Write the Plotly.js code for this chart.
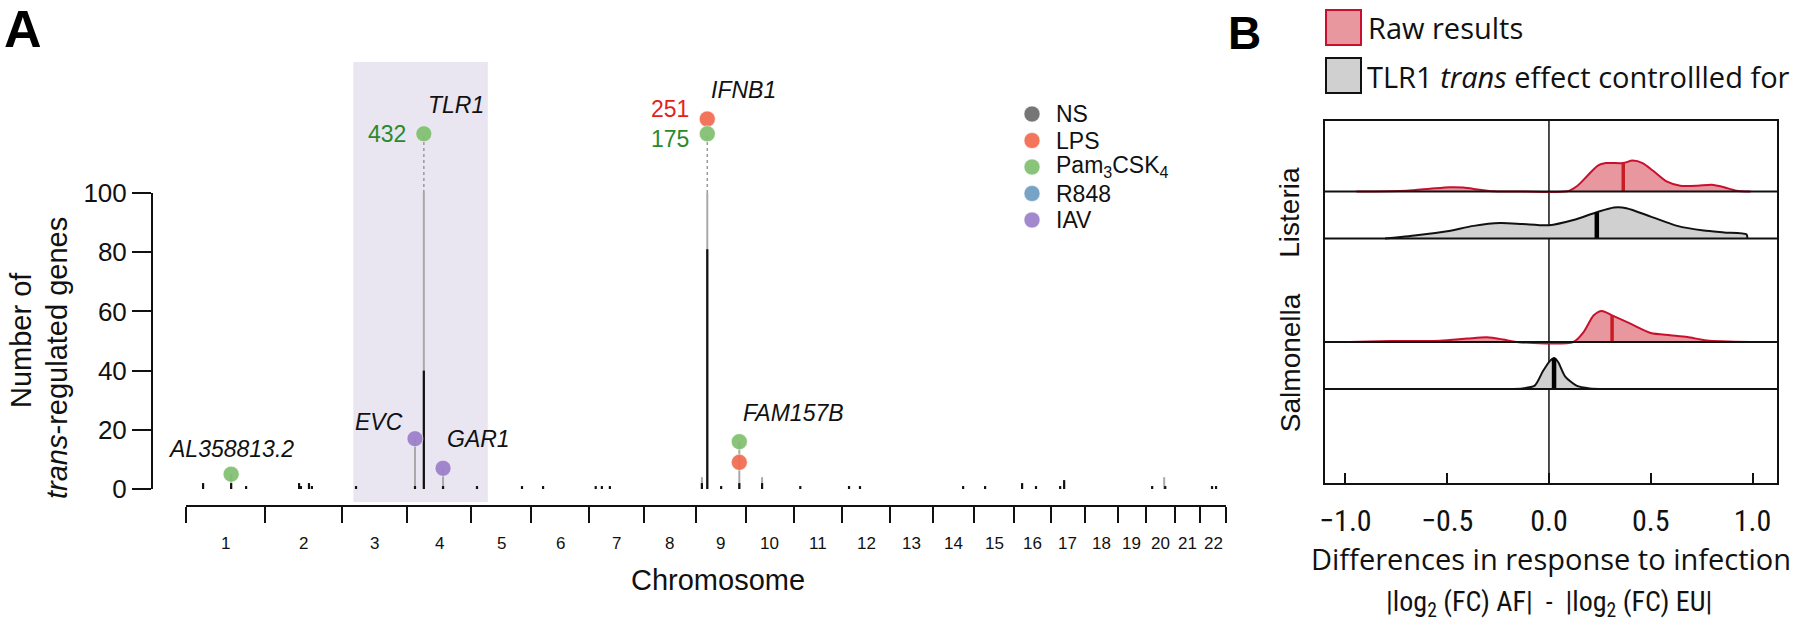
<!DOCTYPE html>
<html>
<head>
<meta charset="utf-8">
<script src="https://cdn.plot.ly/plotly-3.0.1.min.js"></script>
<style>html,body{margin:0;padding:0;background:#fff}#chart{width:1800px;height:624px}</style>
</head>
<body>
<div id="chart"></div>
<script>
// ================= DATA =================
// Panel A : chromosomes (hg19 lengths, Mb)
const chromosomes = ['1','2','3','4','5','6','7','8','9','10','11','12','13','14','15','16','17','18','19','20','21','22'];
const chrLengthMb = [249.3,243.2,198.0,191.2,180.9,171.1,159.1,146.4,141.2,135.5,135.0,133.9,115.2,107.3,102.5,90.4,81.2,78.1,59.1,63.0,48.1,51.3];

// trans-acting loci: number of trans-regulated genes (black = one condition, grey = total)
const locusChr   = [1,1,1,2,2,2,2,3,4,4,4,5,5,6,7,7,7,9,9,9,9,10,11,12,12,14,15,16,16,17,17,20,20,20,22,22];
const locusPosMb = [41,146,202,105,112,142,153,29,5.7,38.8,110.7,0.5,169,21,1,24,54,1,21.1,73,141,39,0.5,2,43,88,17,7,59,13,28,1,46,50,22,37];
const locusBlack = [2,2,1,2,1,2,1,1,1,40,1,1,1,1,1,1,1,2,81,1,2,2,1,1,1,1,1,2,1,1,3,1,0,1,1,1];
const locusGrey  = [0,5,0,0,0,0,0,0,17,432,7,0,0,0,0,0,0,4,251,0,16,4,0,0,0,0,0,0,0,0,0,0,4,0,0,0];

// highlighted hotspot genes
const dotGene      = ['AL358813.2','EVC','TLR1','GAR1','IFNB1','IFNB1','FAM157B','FAM157B'];
const dotChr       = [1,4,4,4,9,9,9,9];
const dotPosMb     = [146,5.7,38.8,110.7,21.1,21.1,141,141];
const dotCount     = [5,17,432,7,251,175,16,9];
const dotCondition = ['Pam3CSK4','IAV','Pam3CSK4','IAV','LPS','Pam3CSK4','Pam3CSK4','LPS'];

const conditions      = ['NS','LPS','Pam3CSK4','R848','IAV'];
const conditionLabels = ['NS','LPS','Pam<sub>3</sub>CSK<sub>4</sub>','R848','IAV'];

const highlightFrom = [3, 19];   // chr, Mb
const highlightTo   = [5, 41];

const yTicksA = [0,20,40,60,80,100];

// Panel B : density ridges (relative density)
const infections = ['Listeria','Salmonella'];
const listeriaRawX   = [-0.945,-0.70,-0.585,-0.487,-0.42,-0.34,-0.27,-0.13,0.09,0.14,0.19,0.24,0.28,0.365,0.41,0.46,0.51,0.58,0.645,0.73,0.80,0.86,0.92,0.99];
const listeriaRawD   = [0,0.03,0.09,0.14,0.13,0.06,0.01,0,0.01,0.19,0.52,0.84,0.92,0.92,1.0,0.92,0.68,0.32,0.19,0.19,0.22,0.14,0.03,0];
const listeriaCtrlX  = [-0.805,-0.65,-0.50,-0.37,-0.24,-0.13,0.0,0.12,0.235,0.32,0.38,0.50,0.63,0.76,0.86,0.97,0.975];
const listeriaCtrlD  = [0,0.11,0.24,0.41,0.50,0.47,0.43,0.60,0.85,1.0,0.98,0.71,0.41,0.26,0.20,0.14,0];
const salmonellaRawX = [-0.98,-0.78,-0.535,-0.40,-0.305,-0.225,-0.16,0.12,0.17,0.22,0.26,0.31,0.40,0.50,0.595,0.68,0.775,0.99];
const salmonellaRawD = [0,0.03,0.04,0.11,0.15,0.08,0,0,0.32,0.86,1.0,0.86,0.59,0.29,0.22,0.16,0.05,0];
const salmonellaCtrlX= [-0.265,-0.13,-0.07,-0.03,0.003,0.025,0.045,0.08,0.135,0.2,0.275];
const salmonellaCtrlD= [0,0.02,0.11,0.57,0.89,1.0,0.87,0.40,0.11,0.02,0];
const medianRaw  = [0.365, 0.31];   // Listeria, Salmonella
const medianCtrl = [0.235, 0.025];
const xTicksB = [-1,-0.5,0,0.5,1];
const xTickTextB = ['\u22121.0','\u22120.5','0.0','0.5','1.0'];

// ================= STYLE / LAYOUT HELPERS =================
const W = 1800, H = 624;
const px = v => v / W;
const py = v => 1 - v / H;
const ARIAL = 'Liberation Sans, Arial, Helvetica, sans-serif';
const MYRIAD = 'Open Sans, Noto Sans, sans-serif';
const NARROW = 'Liberation Sans Narrow, Arial Narrow, Roboto Condensed, DejaVu Sans Condensed, Liberation Sans, sans-serif';

const condColor  = {NS:'#6b6b6b', LPS:'#f26b4f', Pam3CSK4:'#80bf6f', R848:'#6c9cbf', IAV:'#9b7fca'};
const countColor = {NS:'#444', LPS:'#e3231b', Pam3CSK4:'#2a8a2a', R848:'#3a6e99', IAV:'#6a4fa0'};

const GAP = 46;  // spacing between chromosomes (Mb)
const cumStart = []; let acc = 0;
chrLengthMb.forEach(L => { cumStart.push(acc); acc += L + GAP; });
const TOTAL = acc;
const gx = (c, p) => cumStart[c - 1] + GAP / 2 + p;
const boundaries = cumStart.concat([TOTAL]);
const centers = chrLengthMb.map((L, i) => cumStart[i] + (L + GAP) / 2);

const BREAK = 100, TOPROW = 120;
// rank of each dot among the >BREAK dots of the same gene (broken axis display)
const aboveRank = dotCount.map((v, i) => {
  if (v <= BREAK) return -1;
  const above = dotCount.map((w, j) => ({w, j})).filter(o => dotGene[o.j] === dotGene[i] && o.w > BREAK).sort((a, b) => a.w - b.w);
  return above.findIndex(o => o.j === i);
});
const aboveN = dotGene.map(g => dotGene.filter((d, j) => d === g && dotCount[j] > BREAK).length);
const dispY = dotCount.map((v, i) => v <= BREAK ? v : TOPROW + 5 * aboveRank[i]);

const traces = [];
// grey stems
const gsx = [], gsy = [];
locusChr.forEach((c, i) => { if (locusGrey[i] > 0) { const x = gx(c, locusPosMb[i]); gsx.push(x, x, null); gsy.push(0, Math.min(locusGrey[i], BREAK), null); } });
traces.push({x: gsx, y: gsy, mode: 'lines', line: {color: '#a9a9a9', width: 2}, showlegend: false, hoverinfo: 'skip'});
// dotted continuation above break
const dsx = [], dsy = [];
[...new Set(dotGene)].forEach(g => {
  const idx = dotGene.map((d, i) => i).filter(i => dotGene[i] === g && dotCount[i] > BREAK);
  if (idx.length) { const x = gx(dotChr[idx[0]], dotPosMb[idx[0]]); dsx.push(x, x, null); dsy.push(BREAK, Math.min(...idx.map(i => dispY[i])), null); }
});
traces.push({x: dsx, y: dsy, mode: 'lines', line: {color: '#9a9a9a', width: 1.5, dash: 'dot'}, showlegend: false, hoverinfo: 'skip'});
// black stems
const bsx = [], bsy = [];
locusChr.forEach((c, i) => { if (locusBlack[i] > 0) { const x = gx(c, locusPosMb[i]); bsx.push(x, x, null); bsy.push(0, locusBlack[i], null); } });
traces.push({x: bsx, y: bsy, mode: 'lines', line: {color: '#111', width: 2.2}, showlegend: false, hoverinfo: 'skip'});
// dots per condition
conditions.forEach((cond, k) => {
  const idx = dotCondition.map((d, i) => i).filter(i => dotCondition[i] === cond);
  if (!idx.length) return;
  traces.push({
    x: idx.map(i => gx(dotChr[i], dotPosMb[i])), y: idx.map(i => dispY[i]),
    mode: 'markers', name: conditionLabels[k], cliponaxis: false, showlegend: false,
    marker: {size: 16, color: condColor[cond], opacity: 0.92, line: {color: 'rgba(255,255,255,0.55)', width: 1}},
    hoverinfo: 'skip'
  });
});
// invisible trace to carry visible y axis
traces.push({x: [0], y: [0], xaxis: 'x', yaxis: 'y2', mode: 'markers', marker: {opacity: 0}, showlegend: false, hoverinfo: 'skip'});

// ---------- Panel B ridges ----------
const ROW_SCALE = 0.66;
const baseOf = (g, raw) => 2 + (infections.length - 1 - g) * 3.2 + (raw ? 1 : 0);
const ridgeData = [
  [listeriaRawX, listeriaRawD, listeriaCtrlX, listeriaCtrlD],
  [salmonellaRawX, salmonellaRawD, salmonellaCtrlX, salmonellaCtrlD]
];
const interp = (xs, ds, v) => { for (let i = 1; i < xs.length; i++) { if (v <= xs[i]) { const t = (v - xs[i-1]) / (xs[i] - xs[i-1]); return ds[i-1] + t * (ds[i] - ds[i-1]); } } return 0; };
const shapes = [];
const annotations = [];

infections.forEach((inf, g) => {
  [[true, ridgeData[g][0], ridgeData[g][1], medianRaw[g]], [false, ridgeData[g][2], ridgeData[g][3], medianCtrl[g]]].forEach(([raw, xs, ds, med]) => {
    const base = baseOf(g, raw);
    traces.push({x: [xs[0], xs[xs.length-1]], y: [base, base], xaxis: 'x3', yaxis: 'y3', mode: 'lines', line: {width: 0}, showlegend: false, hoverinfo: 'skip'});
    traces.push({x: xs, y: ds.map(d => base + d * ROW_SCALE), xaxis: 'x3', yaxis: 'y3', mode: 'lines', fill: 'tonexty',
      fillcolor: raw ? 'rgba(215,75,90,0.58)' : '#d0d0d0',
      line: {color: raw ? '#c8102e' : '#111', width: 2, shape: 'spline', smoothing: 0.7}, showlegend: false, hoverinfo: 'skip'});
    traces.push({x: [med, med], y: [base, base + interp(xs, ds, med) * ROW_SCALE], xaxis: 'x3', yaxis: 'y3', mode: 'lines',
      line: {color: raw ? '#c81d25' : '#000', width: raw ? 3.5 : 4.5}, showlegend: false, hoverinfo: 'skip'});
    shapes.push({type: 'line', xref: 'x3 domain', x0: 0, x1: 1, yref: 'y3', y0: base, y1: base, line: {color: '#111', width: 2}, layer: 'above'});
  });
  annotations.push({xref: 'paper', yref: 'y3', x: px(1290), y: (baseOf(g, false) + baseOf(g, true)) / 2 + 0.05, text: inf, textangle: -90, showarrow: false,
    xanchor: 'center', yanchor: 'middle', font: {family: ARIAL, size: 28, color: '#111'}});
});
shapes.push({type: 'line', xref: 'x3', x0: 0, x1: 0, yref: 'y3 domain', y0: 0, y1: 1, line: {color: '#111', width: 1.5}, layer: 'below'});

// highlight band
shapes.push({type: 'rect', xref: 'x', x0: gx(highlightFrom[0], highlightFrom[1]), x1: gx(highlightTo[0], highlightTo[1]), yref: 'paper', y0: py(502), y1: py(62),
  fillcolor: '#e9e5f1', line: {width: 0}, layer: 'below'});

// Panel A legend (manual, compact rows)
const LEG_X = 1032, LEG_Y0 = 114, LEG_DY = 26.5, LEG_R = 8;
conditions.forEach((cond, k) => {
  const yc = LEG_Y0 + k * LEG_DY;
  shapes.push({type: 'circle', xref: 'paper', yref: 'paper', x0: px(LEG_X - LEG_R), x1: px(LEG_X + LEG_R), y0: py(yc + LEG_R), y1: py(yc - LEG_R),
    fillcolor: condColor[cond], opacity: 0.92, line: {color: 'rgba(255,255,255,0.55)', width: 1}});
  annotations.push({xref: 'paper', yref: 'paper', x: px(LEG_X + 22), y: py(yc), text: conditionLabels[k], showarrow: false, xanchor: 'left', yanchor: 'middle',
    font: {family: ARIAL, size: 23, color: '#111'}});
});

// Panel B legend
shapes.push({type: 'rect', xref: 'paper', yref: 'paper', x0: px(1326), x1: px(1361), y0: py(45), y1: py(10), fillcolor: 'rgba(215,75,90,0.58)', line: {color: '#c8102e', width: 2}});
shapes.push({type: 'rect', xref: 'paper', yref: 'paper', x0: px(1326), x1: px(1361), y0: py(93), y1: py(58), fillcolor: '#d0d0d0', line: {color: '#111', width: 2}});
annotations.push({xref: 'paper', yref: 'paper', x: px(1366), y: py(28), text: 'Raw results', showarrow: false, xanchor: 'left', yanchor: 'middle', font: {family: MYRIAD, size: 29, color: '#111'}});
annotations.push({xref: 'paper', yref: 'paper', x: px(1365), y: py(76), text: 'TLR1 <i>trans</i> effect controllled for', showarrow: false, xanchor: 'left', yanchor: 'middle', font: {family: MYRIAD, size: 29, color: '#111'}});
annotations.push({xref: 'paper', yref: 'paper', x: px(1551), y: py(558), text: 'Differences in response to infection', showarrow: false, xanchor: 'center', yanchor: 'middle', font: {family: MYRIAD, size: 29, color: '#111'}});
annotations.push({xref: 'paper', yref: 'paper', x: px(1549), y: py(603), text: '|log<sub>2</sub> (FC) AF|  -  |log<sub>2</sub> (FC) EU|', showarrow: false, xanchor: 'center', yanchor: 'middle', font: {family: NARROW, size: 28, color: '#111'}});

// Panel letters
annotations.push({xref: 'paper', yref: 'paper', x: px(23), y: py(29), text: '<b>A</b>', showarrow: false, xanchor: 'center', yanchor: 'middle', font: {family: ARIAL, size: 52, color: '#000'}});
annotations.push({xref: 'paper', yref: 'paper', x: px(1244), y: py(33), text: '<b>B</b>', showarrow: false, xanchor: 'center', yanchor: 'middle', font: {family: ARIAL, size: 46, color: '#000'}});

// Panel A y title
annotations.push({xref: 'paper', yref: 'paper', x: px(21), y: py(340), text: 'Number of', textangle: -90, showarrow: false, xanchor: 'center', yanchor: 'middle', font: {family: ARIAL, size: 29, color: '#111'}});
annotations.push({xref: 'paper', yref: 'paper', x: px(57), y: py(358), text: '<i>trans</i>-regulated genes', textangle: -90, showarrow: false, xanchor: 'center', yanchor: 'middle', font: {family: ARIAL, size: 29, color: '#111'}});
// x title
annotations.push({xref: 'paper', yref: 'paper', x: px(718), y: py(580), text: 'Chromosome', showarrow: false, xanchor: 'center', yanchor: 'middle', font: {family: ARIAL, size: 29, color: '#111'}});
// chromosome labels
chromosomes.forEach((c, i) => annotations.push({xref: 'x', yref: 'paper', x: centers[i], y: py(543), text: c, showarrow: false, xanchor: 'center', yanchor: 'middle', font: {family: ARIAL, size: 17, color: '#111'}}));

// count labels for dots above the break (stacked labels spread apart)
dotCount.forEach((v, i) => {
  if (v > BREAK) {
    const n = aboveN[i], r = aboveRank[i];
    annotations.push({xref: 'x', yref: 'y', x: gx(dotChr[i], dotPosMb[i]), y: TOPROW, text: String(v), showarrow: false, xanchor: 'right', yanchor: 'middle',
      xshift: -16, yshift: 30 * r - (n > 1 ? 5 : 0), font: {family: ARIAL, size: 23, color: countColor[dotCondition[i]]}});
  }
});
// gene labels
const labelStyle = {'EVC': {anchor: 'right', dx: -10, dy: 17}, 'AL358813.2': {anchor: 'center', dx: 0, dy: 25}};
[...new Set(dotGene)].forEach(g => {
  const idx = dotGene.map((d, i) => i).filter(i => dotGene[i] === g);
  const top = idx.reduce((a, b) => dispY[a] >= dispY[b] ? a : b);
  const st = labelStyle[g] || {anchor: 'left', dx: 2, dy: 29};
  annotations.push({xref: 'x', yref: 'y', x: gx(dotChr[top], dotPosMb[top]), y: dispY[top], text: '<i>' + g + '</i>', showarrow: false,
    xanchor: st.anchor, yanchor: 'middle', xshift: st.dx, yshift: st.dy, font: {family: ARIAL, size: 23, color: '#111'}});
});

const layout = {
  width: W, height: H, margin: {l: 0, r: 0, t: 0, b: 0},
  paper_bgcolor: '#fff', plot_bgcolor: 'rgba(0,0,0,0)',
  font: {family: ARIAL, color: '#111'},
  showlegend: false,
  xaxis: {domain: [px(186), px(1226)], range: [0, TOTAL], anchor: 'free', position: py(506), showgrid: false, zeroline: false,
    showline: true, linecolor: '#111', linewidth: 2, ticks: 'outside', ticklen: 16, tickwidth: 2, tickcolor: '#111',
    tickmode: 'array', tickvals: boundaries, showticklabels: false, fixedrange: true},
  yaxis: {domain: [py(489), 1], range: [0, 489 / 2.96], visible: false, fixedrange: true},
  yaxis2: {domain: [py(489), py(193)], range: [0, 100], anchor: 'free', position: px(152), side: 'left', showgrid: false, zeroline: false,
    showline: true, linecolor: '#111', linewidth: 2, ticks: 'outside', ticklen: 19, tickwidth: 2, tickcolor: '#111',
    tickmode: 'array', tickvals: yTicksA, tickfont: {family: ARIAL, size: 26, color: '#111'}, fixedrange: true},
  xaxis3: {domain: [px(1325), px(1777)], range: [-1.10, 1.12], anchor: 'y3', showgrid: false, zeroline: false,
    showline: true, mirror: true, linecolor: '#111', linewidth: 2, ticks: 'inside', ticklen: 10, tickwidth: 2, tickcolor: '#111',
    tickmode: 'array', tickvals: xTicksB, ticktext: xTickTextB, ticklabelstandoff: 10, tickfont: {family: NARROW, size: 30, color: '#111'}, fixedrange: true},
  yaxis3: {domain: [py(483), py(121)], range: [0, 362 / 47], anchor: 'x3', showgrid: false, zeroline: false,
    showline: true, mirror: true, linecolor: '#111', linewidth: 2, ticks: '', showticklabels: false, fixedrange: true},
  shapes: shapes,
  annotations: annotations,
  hovermode: false
};

Plotly.newPlot('chart', traces, layout, {displayModeBar: false, staticPlot: true});
</script>
</body>
</html>
